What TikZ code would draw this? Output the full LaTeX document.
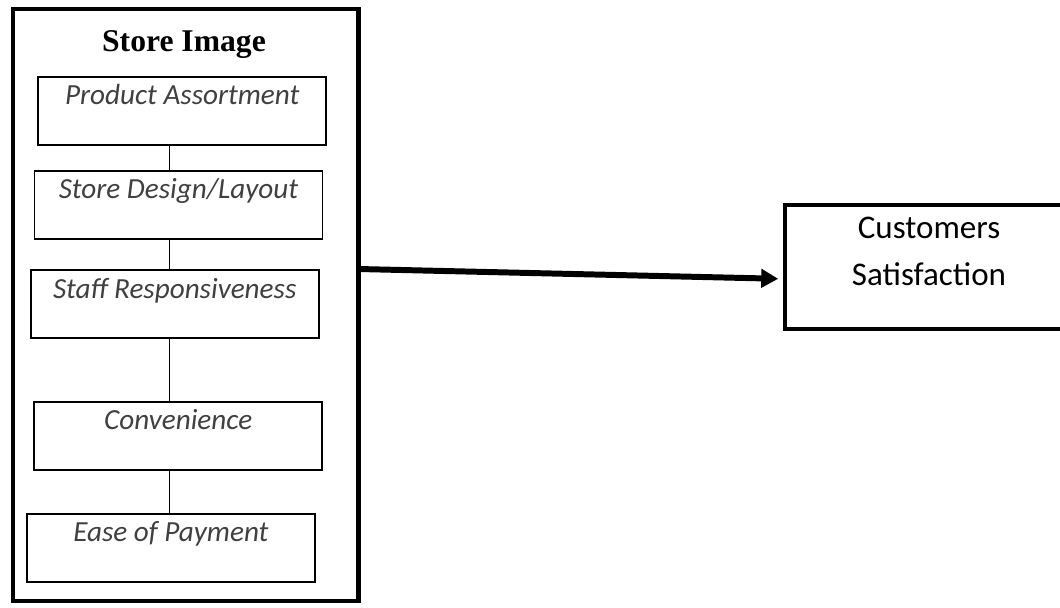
\documentclass[tikz,border=0pt]{standalone}
\usepackage{fontspec}
\setmainfont{Liberation Serif}
\newfontfamily\carlito{Carlito}
\usetikzlibrary{arrows.meta}
\definecolor{textgray}{HTML}{404040}

\tikzset{
    factor/.style={draw, line width=1.1pt, minimum width=5.76cm, inner xsep=0pt, inner ysep=0pt,
        anchor=north, text height=0.56cm, text depth=0.8cm,
        font=\carlito\itshape\fontsize{16.6}{19.5}\selectfont, text=textgray},
    outcome/.style={draw, line width=2pt, minimum width=5.76cm, inner ysep=0pt, anchor=north,
        align=center, text height=1.605cm, text depth=0.88cm,
        font=\carlito\fontsize{18.8}{26.2}\selectfont},
    spine/.style={line width=0.75pt},
    flow/.style={line width=3.4pt, -{Triangle[length=0.34cm, width=0.36cm]}, shorten >=0.1cm}
}

\begin{document}
\begin{tikzpicture}
                      \useasboundingbox (0,0) rectangle (21.2,12.14);
                      \draw[line width=2.8pt] (0.26,0.12) rectangle (7.17,11.96);
                      \coordinate (outer) at (7.17,6.76);
                      \node[anchor=base, font=\bfseries\fontsize{18}{22}\selectfont] (title) at (3.68,11.1) {Store Image};

                      \node[factor] (assort) at (3.644,10.62) {Product Assortment};
                      \node[factor] (design) at (3.57,8.74) {Store Design/Layout};
                      \node[factor] (staff) at (3.494,6.754) {Staff Responsiveness};
                      \node[factor] (conv) at (3.564,4.12) {Convenience};
                      \node[factor] (pay) at (3.418,1.886) {Ease of Payment};

                      \coordinate (axis) at (3.39,0);
                      \draw[spine] (assort.south -| axis) -- (design.north -| axis);
                      \draw[spine] (design.south -| axis) -- (staff.north -| axis);
                      \draw[spine] (staff.south -| axis) -- (conv.north -| axis);
                      \draw[spine] (conv.south -| axis) -- (pay.north -| axis);

                      \node[outcome] (satis) at (18.58,8.08) {Customers\\Satisfaction};
                      \draw[flow] (outer) -- ([yshift=-0.24cm]satis.west);
                  \end{tikzpicture}
\end{document}
